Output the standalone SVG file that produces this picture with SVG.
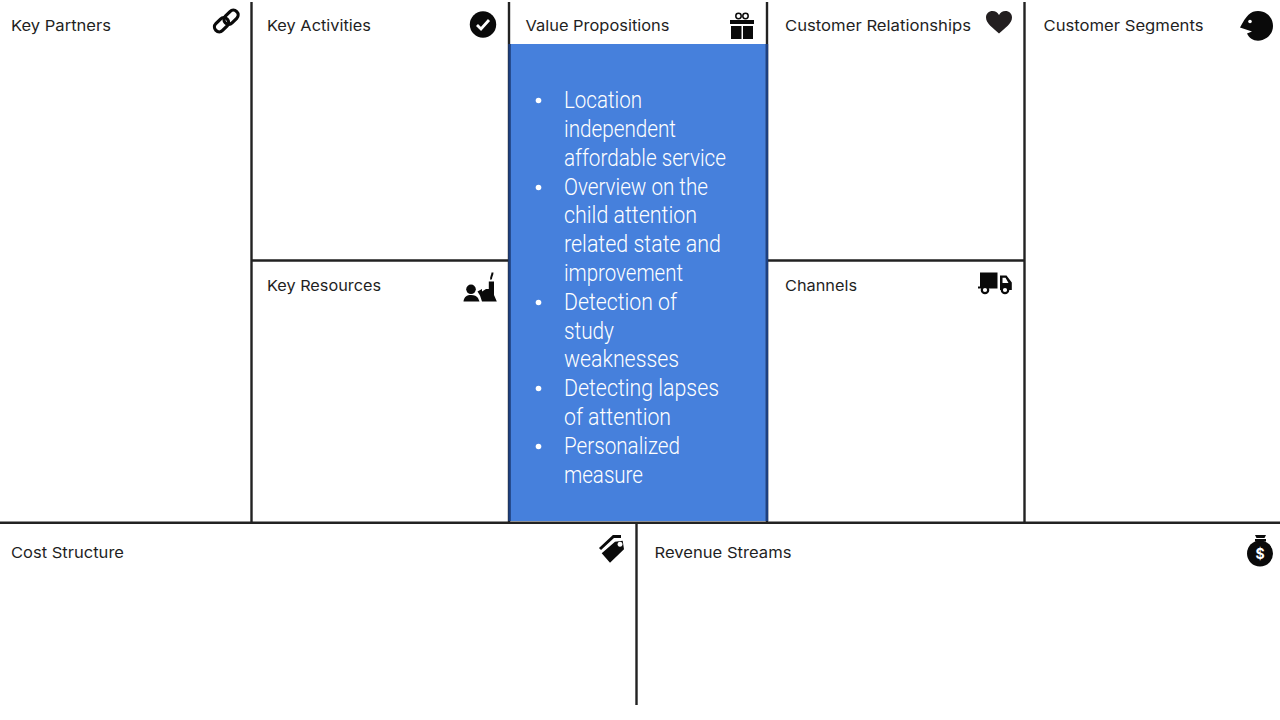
<svg xmlns="http://www.w3.org/2000/svg" width="1280" height="720" viewBox="0 0 1280 720">
<style>
.h{font-family:Inter,"Liberation Sans",sans-serif;font-size:15px;fill:#1f1f1f}
.b{font-family:Roboto,"Liberation Sans",sans-serif;font-size:24px;fill:#fff;font-weight:300}
.l{stroke:#222;stroke-width:2.4;fill:none}
.i{fill:#0a0a0a}
</style>
<rect width="1280" height="720" fill="#fff"/>
<g id="value-fill"><rect x="510" y="44" width="257" height="477" fill="#4680dc"/></g>
<g id="connectors">
<path class="l" d="M251.500 2V522M509 2V522M767 2V522M1024.500 2V522M252 260.500H509M767 260.500H1024M0 522.800H1280M636.500 522V705"/>
<path d="M509.500 44V521M767 44V521" stroke="#1d3f7f" stroke-width="2.400" fill="none"/>
</g>
<g id="key-partners"><text class="h" x="11" y="30.500" textLength="100" lengthAdjust="spacingAndGlyphs">Key Partners</text>
<g fill="none" stroke="#0a0a0a" stroke-width="3.200"><rect x="213.500" y="20" width="16" height="9.500" rx="4.700" transform="rotate(-45 221.500 24.700)"/><rect x="223" y="12.500" width="16" height="9.500" rx="4.700" transform="rotate(-45 231 17.200)"/></g></g>
<g id="key-activities"><text class="h" x="267" y="30.500" textLength="104" lengthAdjust="spacingAndGlyphs">Key Activities</text>
<circle class="i" cx="483" cy="24.500" r="13.200"/><path d="M477 25l4 4 8-9" fill="none" stroke="#fff" stroke-width="2.800"/></g>
<g id="value-propositions"><text class="h" x="525.500" y="30.500" textLength="144" lengthAdjust="spacingAndGlyphs">Value Propositions</text>
<path class="i" d="M730 20h24v4h-24zM731 26h10.500v13h-10.500zM743 26h10v13h-10z"/><g fill="none" stroke="#0a0a0a" stroke-width="1.500"><circle cx="738.500" cy="16" r="2.700"/><circle cx="745.500" cy="16" r="2.700"/></g>
<g class="b">
<circle cx="538.500" cy="100.500" r="2.800" fill="#fff"/><circle cx="538.500" cy="187.500" r="2.800" fill="#fff"/><circle cx="538.500" cy="302.500" r="2.800" fill="#fff"/><circle cx="538.500" cy="388.500" r="2.800" fill="#fff"/><circle cx="538.500" cy="446.500" r="2.800" fill="#fff"/>
<text class="b" x="564" y="108" textLength="78" lengthAdjust="spacingAndGlyphs">Location</text>
<text class="b" x="564" y="137" textLength="112" lengthAdjust="spacingAndGlyphs">independent</text>
<text class="b" x="564" y="166" textLength="162" lengthAdjust="spacingAndGlyphs">affordable service</text>
<text class="b" x="564" y="195" textLength="144" lengthAdjust="spacingAndGlyphs">Overview on the</text>
<text class="b" x="564" y="223" textLength="133" lengthAdjust="spacingAndGlyphs">child attention</text>
<text class="b" x="564" y="252" textLength="157" lengthAdjust="spacingAndGlyphs">related state and</text>
<text class="b" x="564" y="281" textLength="119" lengthAdjust="spacingAndGlyphs">improvement</text>
<text class="b" x="564" y="310" textLength="113" lengthAdjust="spacingAndGlyphs">Detection of</text>
<text class="b" x="564" y="339" textLength="50" lengthAdjust="spacingAndGlyphs">study</text>
<text class="b" x="564" y="367" textLength="115" lengthAdjust="spacingAndGlyphs">weaknesses</text>
<text class="b" x="564" y="396" textLength="155" lengthAdjust="spacingAndGlyphs">Detecting lapses</text>
<text class="b" x="564" y="425" textLength="107" lengthAdjust="spacingAndGlyphs">of attention</text>
<text class="b" x="564" y="454" textLength="116" lengthAdjust="spacingAndGlyphs">Personalized</text>
<text class="b" x="564" y="483" textLength="79" lengthAdjust="spacingAndGlyphs">measure</text>
</g></g>
<g id="customer-relationships"><text class="h" x="785" y="30.500" textLength="186" lengthAdjust="spacingAndGlyphs">Customer Relationships</text>
<path d="M999 33.500C993 28 986 23.500 986 17.500C986 13.500 989 11 992.500 11C995.500 11 997.500 12.500 999 15C1000.500 12.500 1002.500 11 1005.500 11C1009 11 1012 13.500 1012 17.500C1012 23.500 1005 28 999 33.500Z" fill="#231f20"/></g>
<g id="customer-segments"><text class="h" x="1043.500" y="30.500" textLength="160" lengthAdjust="spacingAndGlyphs">Customer Segments</text>
<path class="i" d="M1258 11C1267 11 1273 18 1273 26C1273 34.500 1266 40.700 1258 40.700C1253 40.700 1249 38 1247 33.500L1252 31.500L1240 27.500C1243 22 1246 17 1248.500 14.800C1251.500 12 1254.500 11 1258 11Z"/><circle cx="1250" cy="21.500" r="1.800" fill="#fff"/></g>
<g id="key-resources"><text class="h" x="267" y="290.500" textLength="114" lengthAdjust="spacingAndGlyphs">Key Resources</text>
<circle class="i" cx="471" cy="289.300" r="4.800"/><path class="i" d="M463.500 301.500C464 296.500 467 295 471 295C474.500 295 476.500 296 478 298L479.500 301.500Z"/><path class="i" d="M477.500 291.500L482 289V291.500L486 289H488.800V281.500H494V295L496.800 301.500H482L480 295.500Z"/><path d="M491.300 279.500C490 277.500 492.500 276 492.500 272.500" stroke="#0a0a0a" stroke-width="2" fill="none"/></g>
<g id="channels"><text class="h" x="785" y="290.500" textLength="72" lengthAdjust="spacingAndGlyphs">Channels</text>
<path class="i" d="M980 272.500H997.500V288.500H978V286.500H980ZM1000 275.500H1006.500L1011.800 282.500V290H1000ZM1002.500 277.800V283H1008.500L1005.500 277.800Z" fill-rule="evenodd"/><circle cx="985" cy="290" r="3.200" fill="#fff" stroke="#0a0a0a" stroke-width="2.200"/><circle cx="1005" cy="290" r="3.200" fill="#fff" stroke="#0a0a0a" stroke-width="2.200"/></g>
<g id="cost-structure"><text class="h" x="11" y="557.500" textLength="113" lengthAdjust="spacingAndGlyphs">Cost Structure</text>
<path d="M600 549L613.500 536.500H621" fill="none" stroke="#0a0a0a" stroke-width="3"/><path class="i" fill-rule="evenodd" d="M601.700 553.300L615 541.700L622.700 540.700L624 549.300L610 562.700ZM620 541.700a2.500 2.500 0 1 0 .01 0Z"/></g>
<g id="revenue-streams"><text class="h" x="654.500" y="557.500" textLength="137" lengthAdjust="spacingAndGlyphs">Revenue Streams</text>
<circle class="i" cx="1260" cy="553.500" r="13"/><path class="i" d="M1255 535H1266L1264.500 538H1256.500ZM1255 539H1266V541.500H1255Z"/><text x="1260" y="558.700" text-anchor="middle" font-family="Inter,'Liberation Sans',sans-serif" font-size="14" font-weight="700" fill="#fff">$</text></g>
</svg>
